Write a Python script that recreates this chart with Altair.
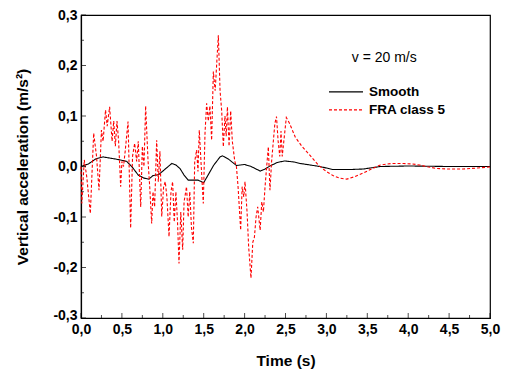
import altair as alt
import pandas as pd

# ---- data ----
t_smooth = [0.00, 0.09, 0.18, 0.27, 0.38, 0.48, 0.56, 0.63, 0.70, 0.77, 0.83, 0.88, 0.95,
            1.03, 1.11, 1.16, 1.21, 1.26, 1.31, 1.43, 1.50, 1.55, 1.62, 1.70, 1.73, 1.80,
            1.90, 2.00, 2.08, 2.19, 2.25, 2.31, 2.40, 2.49, 2.60, 2.68, 2.80, 2.92, 3.08,
            3.29, 3.45, 3.66, 4.00, 4.50, 5.00]
v_smooth = [0.000, 0.005, 0.015, 0.019, 0.016, 0.013, 0.010, -0.002, -0.017, -0.023, -0.025,
            -0.018, -0.016, -0.005, 0.006, 0.003, -0.004, -0.017, -0.027, -0.027, -0.032,
            -0.018, 0.002, 0.019, 0.021, 0.015, 0.002, 0.004, 0.000, -0.009, -0.005, 0.001,
            0.008, 0.011, 0.009, 0.006, 0.003, 0.000, -0.006, -0.006, -0.005, 0.000, 0.001,
            0.000, 0.000]

t_fra = [0.00, 0.01, 0.04, 0.07, 0.114, 0.155, 0.19, 0.22, 0.25, 0.27, 0.30, 0.32, 0.35,
         0.38, 0.40, 0.42, 0.44, 0.46, 0.485, 0.50, 0.52, 0.54, 0.575, 0.607, 0.63, 0.656,
         0.68, 0.70, 0.73, 0.75, 0.77, 0.79, 0.82, 0.84, 0.864, 0.88, 0.90, 0.925, 0.945,
         0.965, 0.987, 1.01, 1.03, 1.05, 1.076, 1.10, 1.12, 1.14, 1.16, 1.18, 1.198, 1.22,
         1.243, 1.26, 1.29, 1.31, 1.33, 1.35, 1.373, 1.39, 1.414, 1.43, 1.446, 1.47, 1.495,
         1.516, 1.536, 1.556, 1.576, 1.597, 1.618, 1.64, 1.679, 1.70, 1.72, 1.74, 1.76,
         1.775, 1.79, 1.81, 1.83, 1.85, 1.88, 1.90, 1.92, 1.952, 1.97, 1.99, 2.005, 2.03,
         2.05, 2.078, 2.10, 2.12, 2.14, 2.16, 2.19, 2.21, 2.23, 2.25, 2.27, 2.29, 2.31,
         2.33, 2.37, 2.39, 2.41, 2.43, 2.445, 2.46, 2.51, 2.55, 2.62, 2.70, 2.80, 2.90,
         3.00, 3.08, 3.16, 3.25, 3.35, 3.45, 3.55, 3.66, 3.80, 3.94, 4.05, 4.14, 4.25,
         4.35, 4.50, 4.67, 4.85, 5.00]
v_fra = [0.000, -0.073, 0.013, -0.020, -0.093, 0.066, 0.020, -0.047, 0.072, 0.050, 0.112,
         0.080, 0.118, 0.050, 0.090, 0.040, 0.090, 0.050, -0.040, 0.010, 0.000, 0.030,
         0.089, -0.122, 0.020, 0.046, 0.010, 0.050, -0.080, 0.040, 0.000, 0.120, 0.010,
         -0.040, -0.113, -0.050, -0.080, 0.052, -0.030, 0.030, -0.099, -0.040, -0.030,
         -0.060, -0.139, -0.050, -0.030, -0.110, -0.050, -0.110, -0.192, -0.090, -0.165,
         -0.070, -0.040, -0.100, -0.050, -0.120, -0.152, 0.010, 0.033, -0.010, 0.072,
         0.000, -0.073, 0.066, 0.125, 0.090, 0.120, 0.052, 0.188, 0.150, 0.260, 0.150,
         0.110, 0.039, 0.100, 0.060, 0.118, 0.040, 0.110, 0.050, 0.010, 0.000, -0.040,
         -0.126, -0.040, -0.060, -0.030, -0.090, -0.160, -0.221, -0.150, -0.140, -0.100,
         -0.080, -0.126, -0.070, -0.090, -0.040, 0.000, 0.039, -0.047, 0.010, 0.085,
         0.099, 0.050, 0.020, 0.070, 0.020, 0.097, 0.085, 0.058, 0.040, 0.022, 0.003,
         -0.010, -0.018, -0.023, -0.025, -0.020, -0.013, -0.005, 0.003, 0.006, 0.006,
         0.005, 0.003, -0.001, -0.004, -0.005, -0.005, -0.003, -0.001]

series_names = ["Smooth", "FRA class 5"]
series_colors = ["black", "red"]
series_dashes = [[1, 0], [3, 2]]

x_major = [0.0, 0.5, 1.0, 1.5, 2.0, 2.5, 3.0, 3.5, 4.0, 4.5, 5.0]
x_minor = [0.25, 0.75, 1.25, 1.75, 2.25, 2.75, 3.25, 3.75, 4.25, 4.75]
y_major = [-0.3, -0.2, -0.1, 0.0, 0.1, 0.2, 0.3]
y_minor = [-0.25, -0.15, -0.05, 0.05, 0.15, 0.25]

annotation = "v = 20 m/s"

FONT = "Liberation Sans"

df = pd.concat([
    pd.DataFrame({"t": t_smooth, "v": v_smooth, "series": series_names[0], "o": 0}),
    pd.DataFrame({"t": t_fra, "v": v_fra, "series": series_names[1], "o": 1}),
])

xscale = alt.Scale(domain=[0, 5], nice=False, zero=False)
yscale = alt.Scale(domain=[-0.3, 0.3], nice=False, zero=False)

x_label_expr = "replace(format(datum.value, '.1f'), '.', ',')"
y_label_expr = "(datum.value < -0.001 ? '-' : '') + replace(format(abs(datum.value), '.1f'), '.', ',')"

legend_cfg = dict(title=None, orient="none", legendX=247, legendY=68,
                  symbolType="stroke", symbolSize=1156, symbolStrokeWidth=1.2,
                  clipHeight=17.6, rowPadding=0, labelFont=FONT, labelFontSize=13.5,
                  labelFontWeight="bold", labelColor="black", labelOffset=5, padding=0)

lines = alt.Chart(df).mark_line(strokeWidth=1.1, interpolate="linear").encode(
    x=alt.X("t:Q", scale=xscale,
            axis=alt.Axis(values=x_major, labelExpr=x_label_expr, title="Time (s)",
                          ticks=False, grid=False, labelPadding=4, titlePadding=17,
                          labelFlush=False)),
    y=alt.Y("v:Q", scale=yscale,
            axis=alt.Axis(values=y_major, labelExpr=y_label_expr,
                          title="Vertical acceleration (m/s²)",
                          ticks=False, grid=False, labelPadding=4, titlePadding=22,
                          labelFlush=False,
                          labelOffset={"condition": {"test": "datum.value < -0.29", "value": -3},
                                       "value": 0})),
    color=alt.Color("series:N",
                    scale=alt.Scale(domain=series_names, range=series_colors),
                    legend=alt.Legend(**legend_cfg)),
    strokeDash=alt.StrokeDash("series:N",
                              scale=alt.Scale(domain=series_names, range=series_dashes),
                              legend=alt.Legend(**legend_cfg)),
    order=alt.Order("o:Q"),
)

xmaj_df = pd.DataFrame({"t": x_major})
xmin_df = pd.DataFrame({"t": x_minor})
ymaj_df = pd.DataFrame({"v": y_major})
ymin_df = pd.DataFrame({"v": y_minor})

xmaj_ticks = alt.Chart(xmaj_df).mark_tick(orient="vertical", size=5, thickness=1,
                                          yOffset=-2.5, color="black").encode(
    x=alt.X("t:Q", scale=xscale), y=alt.datum(-0.3))
xmin_ticks = alt.Chart(xmin_df).mark_tick(orient="vertical", size=3, thickness=1,
                                          yOffset=-1.5, color="black").encode(
    x=alt.X("t:Q", scale=xscale), y=alt.datum(-0.3))
ymaj_ticks = alt.Chart(ymaj_df).mark_tick(orient="horizontal", size=5, thickness=1,
                                          xOffset=2.5, color="black").encode(
    y=alt.Y("v:Q", scale=yscale), x=alt.datum(0))
ymin_ticks = alt.Chart(ymin_df).mark_tick(orient="horizontal", size=3, thickness=1,
                                          xOffset=1.5, color="black").encode(
    y=alt.Y("v:Q", scale=yscale), x=alt.datum(0))

label = alt.Chart(pd.DataFrame({"txt": [annotation]})).mark_text(
    align="left", baseline="middle", font=FONT, fontSize=14, color="black").encode(
    x=alt.datum(3.31), y=alt.datum(0.214), text="txt:N")

chart = alt.layer(lines, xmaj_ticks, xmin_ticks, ymaj_ticks, ymin_ticks, label).properties(
    width=409, height=303,
    background="white",
    autosize=alt.AutoSizeParams(type="none"),
    padding={"left": 81, "top": 15, "right": 20, "bottom": 51},
).configure_view(stroke="black", strokeWidth=1.2).configure_axis(
    domainColor="black", domainWidth=1.2, labelFont=FONT, labelFontSize=14,
    labelFontWeight="bold", labelColor="black", titleFont=FONT, titleFontSize=15.5,
    titleFontWeight="bold", titleColor="black",
)

chart.save("out.html", embed_options={"renderer": "svg", "actions": False})
